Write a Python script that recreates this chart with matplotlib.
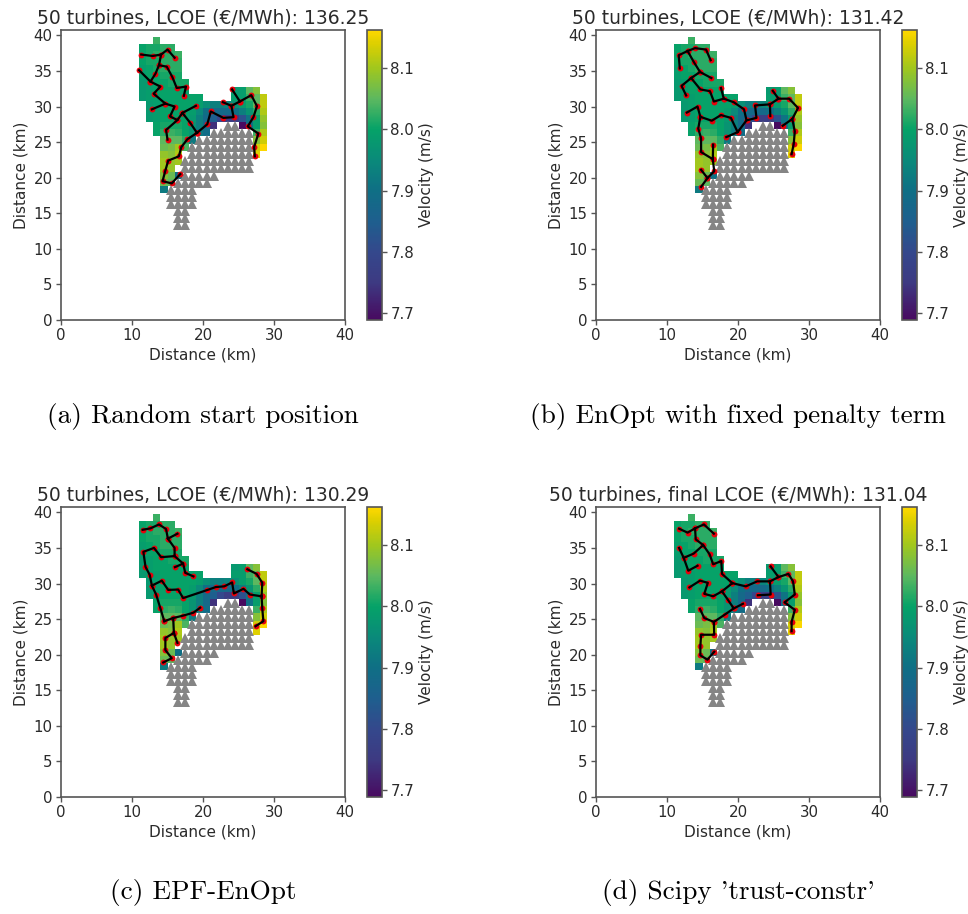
import numpy as np
import matplotlib
matplotlib.use("Agg")
import matplotlib.pyplot as plt
from matplotlib.colors import LinearSegmentedColormap

# velocity field, 1 km cells: (row index from the top, first x cell, values)
velocity_rows = [
    (0, 13, [8.03]),
    (1, 11, [8.00, 8.01, 8.01, 8.02, 8.02]),
    (2, 11, [8.00, 8.01, 8.02, 8.02, 8.02, 8.03]),
    (3, 11, [8.00, 8.01, 8.01, 8.02, 8.02, 8.02]),
    (4, 11, [7.99, 8.00, 8.01, 8.02, 8.02, 8.02]),
    (5, 11, [7.99, 8.00, 8.00, 8.01, 8.01, 8.01]),
    (6, 11, [7.98, 7.99, 8.00, 8.00, 8.01, 8.01, 8.01]),
    (7, 11, [7.98, 7.99, 8.00, 8.00, 8.00, 8.00, 8.00]),
    (7, 24, [7.98, 7.99, 8.05, 8.08]),
    (8, 11, [7.98, 7.99, 7.99, 8.00, 8.00, 8.00, 8.00, 8.00, 8.00]),
    (8, 24, [7.99, 7.99, 8.03, 8.05, 8.12]),
    (9, 12, [7.98, 7.99, 8.00, 8.00, 8.00, 8.00, 8.00, 7.99, 7.96, 7.93, 7.93, 7.94, 7.96, 7.99, 8.01, 8.05, 8.12]),
    (10, 12, [7.98, 7.99, 8.00, 8.00, 8.00, 8.00, 7.99, 7.95, 7.90, 7.88, 7.88, 7.88, 7.90, 7.93, 7.97, 8.02, 8.11]),
    (11, 12, [7.98, 7.99, 8.00, 8.00, 8.00, 8.00, 7.98, 7.93, 7.88, 7.85, 7.80, 7.76, 7.76, 7.82, 7.91, 7.99, 8.09]),
    (12, 13, [8.00, 8.01, 8.01, 8.01, 8.00, 7.97, 7.93, 7.88, 7.74]),
    (12, 25, [7.69, 7.90, 7.99, 8.08]),
    (13, 13, [8.00, 8.02, 8.03, 8.02, 8.00, 7.97, 7.92, 7.89]),
    (13, 27, [8.03, 8.11]),
    (14, 14, [8.05, 8.05, 8.05, 8.02, 7.92]),
    (14, 27, [8.08, 8.13]),
    (15, 14, [8.06, 8.07, 8.10, 8.04]),
    (15, 27, [8.13, 8.16]),
    (16, 14, [8.09, 8.08, 8.11]),
    (16, 27, [8.14]),
    (17, 14, [8.10, 8.09, 8.10]),
    (18, 14, [8.10, 8.09]),
    (19, 14, [8.08, 8.06, 7.90]),
    (20, 14, [8.06, 8.05]),
    (21, 14, [7.92]),
]

# excluded area markers: row y (km), first and last x cell
excluded_y = [13.3, 14.3, 15.3, 16.3, 17.3, 18.3, 19.3, 20.3, 21.3, 22.3, 23.3, 24.3, 25.3, 26.3, 27.3]
excluded_first = [16, 16, 16, 15, 15, 15, 16, 17, 17, 17, 18, 18, 19, 21, 23]
excluded_last = [17, 17, 17, 18, 18, 18, 20, 21, 26, 26, 26, 26, 26, 26, 24]

# cable branches in km, every vertex is a turbine
layout_a = [
    [(11.3, 37.3), (12.9, 37.1), (14.1, 37.3), (15.0, 38.0), (16.0, 36.85)],
    [(14.1, 37.3), (13.8, 35.8), (13.3, 34.6), (12.6, 33.5), (11.0, 35.1)],
    [(13.8, 35.8), (14.9, 35.6), (15.7, 34.1), (16.3, 32.6), (17.6, 32.8), (17.3, 31.5)],
    [(12.6, 33.5), (14.0, 32.8), (13.05, 31.8), (14.7, 30.4), (16.0, 30.0), (15.35, 28.6),
     (16.4, 28.1), (17.1, 29.1), (19.0, 30.1)],
    [(14.7, 30.4), (12.8, 29.6)],
    [(17.1, 29.1), (18.2, 27.7), (19.15, 26.3)],
    [(16.4, 28.1), (14.8, 26.7), (15.0, 25.35)],
    [(19.15, 26.3), (20.6, 27.5), (21.1, 29.3), (22.86, 28.4), (24.3, 28.5), (24.0, 30.1), (22.8, 30.6)],
    [(24.0, 30.1), (25.2, 30.7), (24.1, 32.4)],
    [(25.2, 30.7), (26.8, 31.6), (27.6, 30.05), (27.1, 28.5), (26.3, 27.2), (27.8, 26.2),
     (27.2, 24.3), (27.3, 23.0)],
    [(19.15, 26.3), (17.8, 25.4), (16.95, 24.3), (16.6, 23.0), (15.1, 22.4), (14.7, 21.0),
     (14.3, 19.5), (15.6, 19.2), (16.8, 20.5)],
]
layout_b = [
    [(11.8, 35.35), (11.65, 37.2), (12.9, 37.8), (13.95, 38.2), (15.5, 38.0), (16.15, 36.5)],
    [(12.9, 37.8), (13.75, 36.3), (14.65, 34.85), (16.25, 34.0)],
    [(14.65, 34.85), (13.4, 34.0), (12.05, 32.9), (12.7, 31.55)],
    [(13.4, 34.0), (14.7, 32.4), (16.05, 32.15), (16.6, 30.7), (18.0, 31.1), (17.6, 32.6)],
    [(18.0, 31.1), (19.4, 30.6), (20.85, 29.6), (21.2, 28.05), (22.6, 28.4), (22.4, 30.15),
     (24.5, 30.3), (24.55, 28.65)],
    [(24.5, 30.3), (25.7, 31.1), (24.9, 32.2)],
    [(25.7, 31.1), (27.2, 31.1), (28.45, 29.8), (27.65, 28.25), (26.3, 27.3)],
    [(27.65, 28.25), (28.0, 26.5), (27.85, 24.75), (27.55, 23.3)],
    [(21.2, 28.05), (19.95, 26.4), (18.35, 25.7)],
    [(19.95, 26.4), (19.0, 28.4), (17.6, 28.8), (16.3, 28.0), (14.7, 28.55), (14.3, 30.0), (12.8, 29.15)],
    [(14.7, 28.55), (14.4, 26.9), (14.8, 25.55), (14.8, 23.6), (16.45, 22.6), (16.5, 24.65)],
    [(16.45, 22.6), (16.65, 20.9), (15.7, 19.95), (14.8, 18.7)],
    [(15.7, 19.95), (14.8, 21.1)],
]
layout_c = [
    [(11.5, 37.55), (12.6, 37.75), (13.8, 38.3), (14.8, 37.65), (15.05, 36.3), (16.4, 37.0)],
    [(15.05, 36.3), (16.0, 35.0), (16.0, 33.85), (17.2, 32.8), (16.05, 32.3)],
    [(17.2, 32.8), (17.5, 31.5), (18.65, 31.0)],
    [(16.0, 33.85), (14.1, 33.7), (13.1, 35.0), (11.6, 34.45), (11.9, 32.35), (12.5, 31.2),
     (12.8, 29.7), (13.4, 28.45), (14.0, 26.5), (14.55, 24.7)],
    [(12.8, 29.7), (14.2, 30.4), (15.1, 29.1), (16.5, 29.15), (17.2, 27.95), (20.5, 29.05),
     (21.8, 29.5), (23.0, 29.6), (24.1, 30.15), (24.35, 28.6), (25.7, 29.25), (26.6, 28.45), (28.25, 28.2)],
    [(28.25, 28.2), (28.35, 30.1), (27.55, 31.35), (26.25, 32.0)],
    [(28.25, 28.2), (28.35, 26.5), (28.5, 24.7), (27.4, 24.0)],
    [(14.55, 24.7), (15.8, 25.15), (17.25, 25.5), (18.65, 25.9), (19.6, 26.6)],
    [(15.8, 25.15), (15.9, 23.05), (16.4, 21.65)],
    [(15.9, 23.05), (14.7, 22.35), (14.7, 20.65), (15.6, 19.5), (14.4, 18.9)],
]
layout_d = [
    [(11.7, 37.7), (12.9, 37.15), (13.95, 37.75), (15.2, 38.3), (16.6, 37.0)],
    [(13.95, 37.75), (14.05, 36.2), (15.1, 35.4), (13.75, 34.2), (12.35, 33.6), (11.7, 35.0)],
    [(12.35, 33.6), (13.0, 31.8), (14.3, 32.5)],
    [(15.1, 35.4), (16.0, 34.1), (16.5, 32.7), (17.65, 33.15), (17.75, 31.35), (19.2, 30.05)],
    [(19.2, 30.05), (21.1, 29.6), (22.7, 30.3), (24.5, 30.3), (24.6, 28.45), (22.8, 28.35)],
    [(24.5, 30.3), (25.7, 30.9), (24.6, 32.4)],
    [(25.7, 30.9), (27.1, 31.35), (27.75, 30.3), (28.0, 28.45), (26.55, 27.35), (28.0, 26.3),
     (27.55, 24.6), (27.55, 23.3)],
    [(19.2, 30.05), (17.75, 28.9), (16.5, 28.2), (15.25, 28.55), (15.75, 30.1), (14.65, 30.4), (13.15, 29.45)],
    [(17.75, 28.9), (18.55, 27.75), (19.4, 26.5), (20.7, 27.15)],
    [(19.4, 26.5), (18.1, 25.6), (16.6, 24.6), (15.25, 25.15), (14.65, 26.4)],
    [(16.6, 24.6), (16.65, 22.8), (14.8, 22.8), (14.7, 21.2), (14.7, 19.9), (15.7, 19.3), (16.65, 20.4)],
]

layouts = [layout_a, layout_b, layout_c, layout_d]
titles = [
    "50 turbines, LCOE (€/MWh): 136.25",
    "50 turbines, LCOE (€/MWh): 131.42",
    "50 turbines, LCOE (€/MWh): 130.29",
    "50 turbines, final LCOE (€/MWh): 131.04",
]
captions = [
    "(a) Random start position",
    "(b) EnOpt with fixed penalty term",
    "(c) EPF-EnOpt",
    "(d) Scipy 'trust-constr'",
]
xticks = [0, 10, 20, 30, 40]
yticks = [0, 5, 10, 15, 20, 25, 30, 35, 40]
cbar_ticks = [7.7, 7.8, 7.9, 8.0, 8.1]

# colour bar as it looks in the picture, a bit more saturated than viridis
vmin, vmax = 7.689, 8.162
cmap_vals = [7.689, 7.75, 7.80, 7.85, 7.90, 7.95, 8.00, 8.05, 8.10, 8.14, 8.162]
cmap_cols = ["#480a60", "#3d3a82", "#34488c", "#1e5f8e", "#0f6f85", "#0a8a7a",
             "#05a268", "#5cb860", "#a0c71e", "#dccf00", "#ffd800"]

W, H = 968, 914
text_col = "#2a2a2a"
edge_col = "#555555"


def px_box(left, top, right, bottom):
    return [left / W, 1 - bottom / H, (right - left) / W, (bottom - top) / H]


cmap = LinearSegmentedColormap.from_list(
    "velo", [((v - vmin) / (vmax - vmin), c) for v, c in zip(cmap_vals, cmap_cols)])

# build the grid
velocity = np.full((22, 40), np.nan)
for row, first, vals in velocity_rows:
    velocity[row, first:first + len(vals)] = vals
velocity = velocity[::-1]
x_edges = np.arange(41)
y_edges = 17.8 + np.arange(23)

excl_x = []
excl_y = []
for y, a, b in zip(excluded_y, excluded_first, excluded_last):
    for k in range(a, b + 1):
        excl_x.append(k + 0.5)
        excl_y.append(y)

fig = plt.figure(figsize=(W / 100, H / 100), dpi=100)

lefts = [61, 596, 61, 596]
tops = [30, 30, 507, 507]
caption_y = [417, 417, 893, 893]

for i in range(4):
    left, top = lefts[i], tops[i]
    ax = fig.add_axes(px_box(left, top, left + 284, top + 290))
    mesh = ax.pcolormesh(x_edges, y_edges, velocity, cmap=cmap, vmin=vmin, vmax=vmax)
    ax.plot(excl_x, excl_y, "^", color="#858585", ms=7, mew=0, zorder=2)
    for branch in layouts[i]:
        pts = np.array(branch)
        ax.plot(pts[:, 0], pts[:, 1], "o", color="#e8000b", ms=4.2, mew=0, zorder=3)
        ax.plot(pts[:, 0], pts[:, 1], "-", color="black", lw=1.6, zorder=4)
    ax.set_xlim(0, 40)
    ax.set_ylim(0, 40.75)
    ax.set_xticks(xticks)
    ax.set_yticks(yticks)
    ax.tick_params(labelsize=10.8, length=3.5, width=1, color=edge_col, labelcolor=text_col, pad=2.5)
    ax.set_xlabel("Distance (km)", fontsize=11, labelpad=3, color=text_col)
    ax.set_ylabel("Distance (km)", fontsize=11, labelpad=3.5, color=text_col)
    ax.set_title(titles[i], fontsize=13.5, pad=4.5, color=text_col)
    for s in ax.spines.values():
        s.set_color(edge_col)
        s.set_linewidth(1.2)

    cax = fig.add_axes(px_box(left + 306, top, left + 321, top + 290))
    cb = fig.colorbar(mesh, cax=cax)
    cb.set_ticks(cbar_ticks)
    cb.ax.tick_params(labelsize=10.8, length=3.5, width=1, color=edge_col, labelcolor=text_col, pad=2.5)
    cb.set_label("Velocity (m/s)", fontsize=11, labelpad=3.5, color=text_col)
    cb.outline.set_edgecolor(edge_col)
    cb.outline.set_linewidth(1.2)

    fig.text((left + 142) / W, 1 - caption_y[i] / H, captions[i], family="cmr10",
             fontsize=19.6, ha="center", va="center", color="black")

plt.savefig("out.png", dpi=100)
